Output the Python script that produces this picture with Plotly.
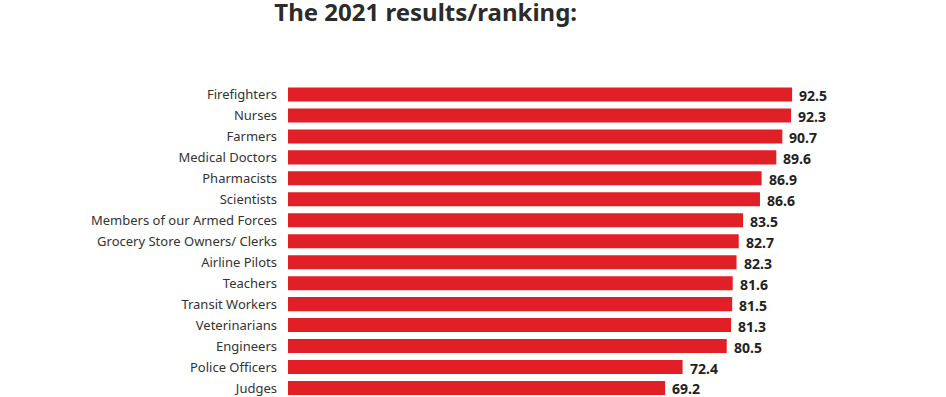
import plotly.graph_objects as go

categories = ["Firefighters", "Nurses", "Farmers", "Medical Doctors", "Pharmacists",
              "Scientists", "Members of our Armed Forces", "Grocery Store Owners/ Clerks",
              "Airline Pilots", "Teachers", "Transit Workers", "Veterinarians",
              "Engineers", "Police Officers", "Judges"]
values = [92.5, 92.3, 90.7, 89.6, 86.9, 86.6, 83.5, 82.7, 82.3, 81.6, 81.5, 81.3, 80.5, 72.4, 69.2]
value_labels = [f"{v:.1f}" for v in values]

fig = go.Figure()
fig.add_trace(go.Bar(
    x=values, y=categories, orientation="h",
    marker=dict(color="#e01f26", line=dict(width=0)),
    hoverinfo="skip",
))

for c, v, t in zip(categories, values, value_labels):
    fig.add_annotation(x=v, y=c, text=t, showarrow=False, xanchor="left",
                       xshift=5, yshift=-1,
                       font=dict(family="Noto Sans", size=14, color="#222222", weight="bold"))

fig.update_layout(
    width=946, height=397,
    margin=dict(l=288, r=113, t=84, b=0),
    paper_bgcolor="white", plot_bgcolor="white",
    bargap=0.33,
    showlegend=False,
    title=dict(text="<b>The 2021 results/ranking:</b>", x=0.45, xanchor="center",
               y=1, yanchor="top", pad=dict(t=4),
               font=dict(family="Noto Sans", size=24, color="#2b2b2b")),
    xaxis=dict(range=[0, 100], visible=False, fixedrange=True),
    yaxis=dict(type="category", range=[14.43, -0.5], showgrid=False, zeroline=False,
               showline=False, ticks="", ticklabelstandoff=10,
               tickfont=dict(family="Noto Sans", size=13, color="#333333")),
)

fig.write_html("out.html", config={"displayModeBar": False},
               post_script="document.body.style.margin='0';")
